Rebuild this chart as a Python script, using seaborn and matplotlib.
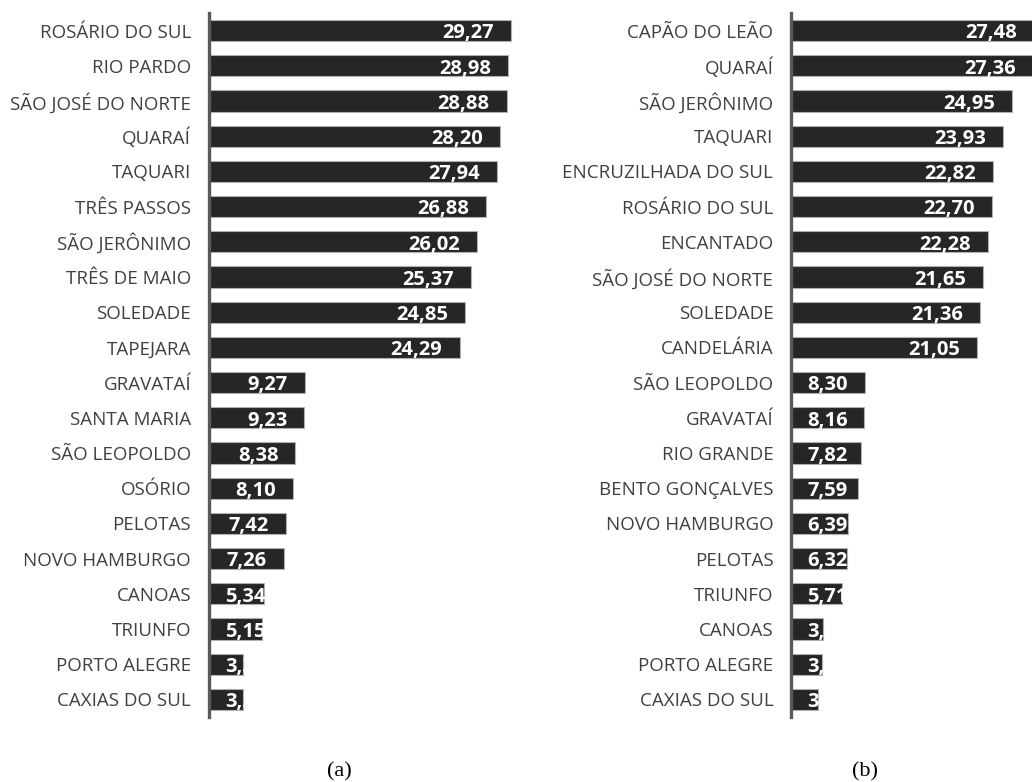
import matplotlib
matplotlib.use("Agg")
import matplotlib.pyplot as plt
import seaborn as sns
import pandas as pd

# Municipalities and their values, panel (a)
cities_a = ["ROSÁRIO DO SUL", "RIO PARDO", "SÃO JOSÉ DO NORTE", "QUARAÍ", "TAQUARI",
            "TRÊS PASSOS", "SÃO JERÔNIMO", "TRÊS DE MAIO", "SOLEDADE", "TAPEJARA",
            "GRAVATAÍ", "SANTA MARIA", "SÃO LEOPOLDO", "OSÓRIO", "PELOTAS",
            "NOVO HAMBURGO", "CANOAS", "TRIUNFO", "PORTO ALEGRE", "CAXIAS DO SUL"]
values_a = [29.27, 28.98, 28.88, 28.20, 27.94, 26.88, 26.02, 25.37, 24.85, 24.29,
            9.27, 9.23, 8.38, 8.10, 7.42, 7.26, 5.34, 5.15, 3.30, 3.25]

# Municipalities and their values, panel (b)
cities_b = ["CAPÃO DO LEÃO", "QUARAÍ", "SÃO JERÔNIMO", "TAQUARI", "ENCRUZILHADA DO SUL",
            "ROSÁRIO DO SUL", "ENCANTADO", "SÃO JOSÉ DO NORTE", "SOLEDADE", "CANDELÁRIA",
            "SÃO LEOPOLDO", "GRAVATAÍ", "RIO GRANDE", "BENTO GONÇALVES", "NOVO HAMBURGO",
            "PELOTAS", "TRIUNFO", "CANOAS", "PORTO ALEGRE", "CAXIAS DO SUL"]
values_b = [27.48, 27.36, 24.95, 23.93, 22.82, 22.70, 22.28, 21.65, 21.36, 21.05,
            8.30, 8.16, 7.82, 7.59, 6.39, 6.32, 5.71, 3.61, 3.43, 3.04]

captions = ["(a)", "(b)"]

sns.set_theme(style="white")
plt.rcParams["font.family"] = ["Open Sans", "DejaVu Sans"]

W, H = 1032, 782
fig = plt.figure(figsize=(W / 100, H / 100), dpi=100)

BAR = "#262626"
EDGE = "#b0b0b0"
SPINE = "#595959"

# axes placement in pixels: (left, top, bottom, px per unit)
layout = [(209.1, 13, 717, 10.31), (791.4, 13, 717, 8.84)]
XMAX = 30

def make_panel(cities, values, geom, caption, cap_x):
    left, top, bottom, scale = geom
    ax = fig.add_axes([left / W, 1 - bottom / H, XMAX * scale / W, (bottom - top) / H])
    df = pd.DataFrame({"city": cities, "value": values})
    sns.barplot(data=df, y="city", x="value", orient="h", color=BAR,
                saturation=1, width=0.6, edgecolor=EDGE, linewidth=0.8, ax=ax)
    ax.set_xlim(0, XMAX)
    ax.set_ylim(len(cities) - 0.5, -0.5)
    for s in ["top", "right", "bottom"]:
        ax.spines[s].set_visible(False)
    ax.spines["left"].set_color(SPINE)
    ax.spines["left"].set_linewidth(2.4)
    ax.set_xticks([])
    ax.set_xlabel("")
    ax.set_ylabel("")
    ax.tick_params(axis="y", length=0, pad=13, labelsize=13.5, labelcolor="#404040")

    texts = []
    for patch, v in zip(ax.patches, values):
        label = f"{v:.2f}".replace(".", ",")
        t = ax.text(v, patch.get_y() + patch.get_height() - 0.08, label,
                    ha="right", va="baseline", color="white", fontsize=14.5,
                    fontweight="bold")
        t.set_clip_path(patch)
        texts.append((t, patch, v))

    fig.canvas.draw()
    renderer = fig.canvas.get_renderer()
    to_data = ax.transData
    for t, patch, v in texts:
        bb = t.get_window_extent(renderer)
        w = bb.width
        end_px = to_data.transform((v, 0))[0]
        base_px = to_data.transform((0, 0))[0]
        right_px = end_px - 17
        if right_px - w < base_px + 16:
            x_px = base_px + 16
            t.set_ha("left")
        else:
            x_px = right_px
        t.set_x(to_data.inverted().transform((x_px, 0))[0])

    fig.text(cap_x / W, 1 - 772 / H, caption, ha="center", va="center",
             fontsize=16, family="Liberation Serif", color="black")
    return ax

make_panel(cities_a, values_a, layout[0], captions[0], 339)
make_panel(cities_b, values_b, layout[1], captions[1], 865)

fig.savefig("out.png", dpi=100)
